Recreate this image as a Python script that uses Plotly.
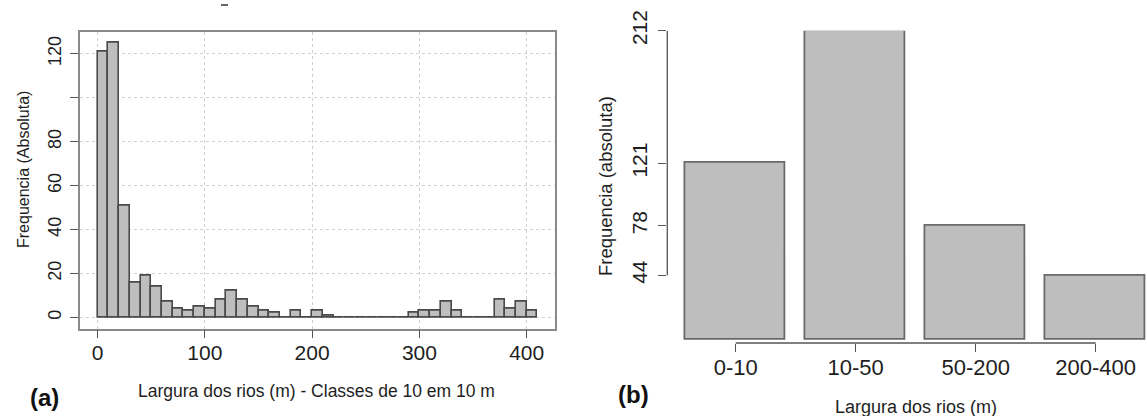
import plotly.graph_objects as go

# ---------------- data ----------------
# Panel (a): histogram, classes of 10 m (left edges of classes)
class_starts = list(range(0, 410, 10))
class_counts = [121, 125, 51, 16, 19, 14, 7, 4, 3, 5,
                4, 8, 12, 8, 5, 3, 2, 0, 3, 0,
                3, 1, 0, 0, 0, 0, 0, 0, 0, 2,
                3, 3, 7, 3, 0, 0, 0, 8, 4, 7,
                3]
class_width = 10
hist_xticks = [0, 100, 200, 300, 400]
hist_yticks = [0, 20, 40, 60, 80, 100, 120]
hist_yticklabels = ["0", "20", "40", "60", "80", "", "120"]

# Panel (b): grouped classes
groups = ["0-10", "10-50", "50-200", "200-400"]
group_counts = [121, 212, 78, 44]

# ---------------- geometry helpers ----------------
W, H = 1147, 416
def px(xp):
    return xp / W
def py(yp):
    return 1 - yp / H

FONT = "Liberation Sans, Arial, sans-serif"
TXT = "#1e1e1e"

fig = go.Figure()

# panel (a) bars
centers = [s + class_width / 2 for s in class_starts]
fig.add_trace(go.Bar(
    x=centers, y=class_counts, width=class_width,
    marker=dict(color="#bebebe", line=dict(color="#4a4a4a", width=1.6)),
    xaxis="x", yaxis="y", showlegend=False, hoverinfo="x+y"))

# panel (b) bars: barplot positions (width 1, space 0.2)
bar_w, space = 1.0, 0.2
bpos = [space + i * (bar_w + space) + bar_w / 2 for i in range(len(groups))]
fig.add_trace(go.Bar(
    x=bpos, y=group_counts, width=bar_w,
    marker=dict(color="#bebebe", line=dict(color="#6a6a6a", width=1.8)),
    xaxis="x2", yaxis="y2", showlegend=False,
    customdata=groups, hovertemplate="%{customdata}: %{y}<extra></extra>"))

fig.update_layout(
    width=W, height=H,
    margin=dict(l=0, r=0, t=0, b=0, pad=0, autoexpand=False),
    paper_bgcolor="white", plot_bgcolor="white",
    bargap=0,
    font=dict(family=FONT, color=TXT),
    xaxis=dict(
        domain=[px(80), px(555)], range=[-16.4, 426.4], automargin=False,
        tickvals=hist_xticks, ticks="outside", ticklen=8, tickcolor="#555",
        tickfont=dict(size=21, family=FONT, color=TXT),
        showgrid=True, gridcolor="#d0d0d0", griddash="dot", gridwidth=1,
        showline=True, linecolor="#8a8a8a", linewidth=1.6, mirror=True,
        zeroline=False, anchor="y", ticklabelstandoff=-4),
    yaxis=dict(
        domain=[py(328.5), py(31.7)], range=[-5, 130], automargin=False,
        tickvals=hist_yticks, ticktext=hist_yticklabels, tickangle=-90,
        ticks="outside", ticklen=8, tickcolor="#555",
        tickfont=dict(size=18, family=FONT, color=TXT),
        showgrid=True, gridcolor="#d0d0d0", griddash="dot", gridwidth=1,
        showline=True, linecolor="#8a8a8a", linewidth=1.6, mirror=True,
        zeroline=False, anchor="x", ticklabelstandoff=2),
    xaxis2=dict(
        domain=[px(667.3), 1.0], range=[0.016, 0.016 + (W - 667.3) / 100.0],
        automargin=False,
        tickvals=bpos, ticktext=groups, ticks="outside", ticklen=8,
        tickcolor="#555", tickfont=dict(size=22, family=FONT, color=TXT),
        showgrid=False, showline=False, zeroline=False, anchor="y2",
        ticklabelstandoff=-3),
    yaxis2=dict(
        domain=[py(343), py(30.7)], range=[-2.5, 212], automargin=False,
        tickvals=sorted(group_counts), ticktext=[str(v) for v in sorted(group_counts)],
        tickangle=-90, ticks="outside", ticklen=8, tickcolor="#555",
        tickfont=dict(size=21, family=FONT, color=TXT),
        showgrid=False, showline=False, zeroline=False, anchor="x2",
        ticklabelstandoff=3),
)

# R-style axis lines for panel (b): from first to last tick only
fig.add_shape(type="line", xref="x2 domain", yref="y2",
              x0=0, x1=0, y0=min(group_counts), y1=max(group_counts),
              line=dict(color="#555", width=1.3))
fig.add_shape(type="line", xref="x2", yref="y2 domain",
              x0=bpos[0], x1=bpos[-1], y0=0, y1=0,
              line=dict(color="#555", width=1.3))

# small remnant dash at top of panel (a)
fig.add_shape(type="line", xref="paper", yref="paper",
              x0=px(221), x1=px(228), y0=py(5), y1=py(5),
              line=dict(color="#333", width=1.5))

ann = [
    dict(text="Largura dos rios (m) - Classes de 10 em 10 m", x=px(316.7), y=py(391),
         font=dict(size=17.5)),
    dict(text="Frequencia (Absoluta)", x=px(23), y=py(170), textangle=-90,
         font=dict(size=16)),
    dict(text="Largura dos rios (m)", x=px(915.8), y=py(407), font=dict(size=18)),
    dict(text="Frequencia (absoluta)", x=px(605), y=py(186), textangle=-90,
         font=dict(size=18.5)),
    dict(text="<b>(a)</b>", x=px(44), y=py(397), font=dict(size=24, color="#111")),
    dict(text="<b>(b)</b>", x=px(633), y=py(394), font=dict(size=24, color="#111")),
]
for a in ann:
    a.update(xref="paper", yref="paper", showarrow=False,
             xanchor="center", yanchor="middle")
    a["font"] = dict(family=FONT, color=a["font"].get("color", TXT), size=a["font"]["size"])
    fig.add_annotation(**a)

fig.write_html("out.html")
